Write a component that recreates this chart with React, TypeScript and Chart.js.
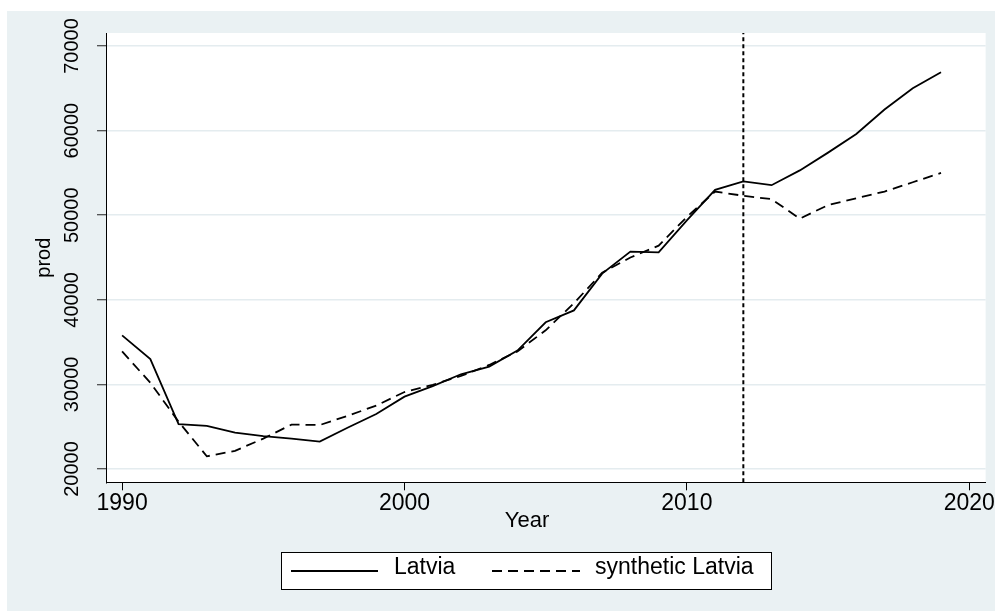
import { useEffect, useRef } from "react";
import { Chart, registerables } from "chart.js";

Chart.register(...registerables);

// Labour productivity, Latvia vs. its synthetic control
const years = [
  1990, 1991, 1992, 1993, 1994, 1995, 1996, 1997, 1998, 1999,
  2000, 2001, 2002, 2003, 2004, 2005, 2006, 2007, 2008, 2009,
  2010, 2011, 2012, 2013, 2014, 2015, 2016, 2017, 2018, 2019,
];
const latvia = [
  35800, 33000, 25300, 25100, 24300, 23900, 23600, 23250, 24900, 26500,
  28550, 29800, 31200, 32100, 34000, 37350, 38750, 43100, 45700, 45600,
  49400, 53000, 54000, 53550, 55300, 57400, 59600, 62500, 65000, 66900,
];
const syntheticLatvia = [
  33900, 30200, 25600, 21500, 22150, 23600, 25250, 25200, 26300, 27500,
  29100, 29950, 31000, 32300, 33900, 36400, 39600, 43200, 45000, 46400,
  49800, 52800, 52300, 51900, 49600, 51200, 52000, 52800, 53900, 55000,
];
const treatmentYear = 2012;

const xTicks = [1990, 2000, 2010, 2020];
const yTicks = [20000, 30000, 40000, 50000, 60000, 70000];
const seriesNames = ["Latvia", "synthetic Latvia"];
const xTitle = "Year";
const yTitle = "prod";

const X_MIN = 1989.43;
const X_MAX = 2020.58;
const Y_MIN = 18430;
const Y_MAX = 71540;

const FONT = '"Liberation Sans", Arial, Helvetica, sans-serif';
const BG = "#EAF1F3";
const GRID = "#E4ECEF";
const SOLID_W = 1.8;
const DASH = [10, 6];

const toPoints = (vals: number[]) => years.map((yr, i) => ({ x: yr, y: vals[i] }));

// Backgrounds, rotated y labels, axis titles and the boxed legend
const decorPlugin = {
  id: "stataDecor",
  beforeDraw(chart: any) {
    const { ctx, width, height, chartArea: a } = chart;
    ctx.save();
    ctx.fillStyle = BG;
    ctx.fillRect(0, 0, width, height);
    ctx.fillStyle = "#ffffff";
    ctx.fillRect(a.left, a.top, a.right - a.left, a.bottom - a.top);
    ctx.restore();
  },
  afterDraw(chart: any) {
    const { ctx, chartArea: a, scales } = chart;
    const ys = scales.y;
    ctx.save();
    ctx.fillStyle = "#000";
    ctx.textAlign = "center";
    ctx.textBaseline = "middle";

    // y tick labels, reading bottom to top
    ctx.font = `20px ${FONT}`;
    for (const t of ys.ticks) {
      const py = ys.getPixelForValue(t.value);
      ctx.save();
      ctx.translate(65, py);
      ctx.rotate(-Math.PI / 2);
      ctx.fillText(String(t.value), 0, 0);
      ctx.restore();
    }

    // y axis title
    ctx.save();
    ctx.translate(37, (a.top + a.bottom) / 2);
    ctx.rotate(-Math.PI / 2);
    ctx.font = `20px ${FONT}`;
    ctx.fillText(yTitle, 0, 0);
    ctx.restore();

    // x axis title
    ctx.font = `22px ${FONT}`;
    ctx.fillText(xTitle, 520, 510);

    // legend
    const lx = 274, ly = 541, lw = 490, lh = 37;
    ctx.fillStyle = "#ffffff";
    ctx.fillRect(lx, ly, lw, lh);
    ctx.strokeStyle = "#000";
    ctx.lineWidth = 1;
    ctx.strokeRect(lx + 0.5, ly + 0.5, lw, lh);

    const lineY = 560;
    ctx.lineWidth = SOLID_W;
    ctx.beginPath();
    ctx.moveTo(284, lineY);
    ctx.lineTo(371, lineY);
    ctx.stroke();

    ctx.setLineDash(DASH);
    ctx.beginPath();
    ctx.moveTo(485, lineY);
    ctx.lineTo(573, lineY);
    ctx.stroke();
    ctx.setLineDash([]);

    ctx.fillStyle = "#000";
    ctx.textAlign = "left";
    ctx.font = `23px ${FONT}`;
    ctx.fillText(seriesNames[0], 387, 557);
    ctx.fillText(seriesNames[1], 588, 557);
    ctx.restore();
  },
};

export default function App() {
  const canvasRef = useRef<HTMLCanvasElement>(null);

  useEffect(() => {
    const canvas = canvasRef.current;
    if (!canvas) return;
    const chart = new Chart(canvas, {
      type: "line",
      data: {
        datasets: [
          {
            label: seriesNames[0],
            data: toPoints(latvia),
            borderColor: "#000",
            borderWidth: SOLID_W,
            pointRadius: 0,
            tension: 0,
            fill: false,
          },
          {
            label: seriesNames[1],
            data: toPoints(syntheticLatvia),
            borderColor: "#000",
            borderWidth: SOLID_W,
            borderDash: DASH,
            pointRadius: 0,
            tension: 0,
            fill: false,
          },
          {
            label: "treatment",
            data: [
              { x: treatmentYear, y: Y_MIN },
              { x: treatmentYear, y: Y_MAX },
            ],
            borderColor: "#000",
            borderWidth: 2,
            borderDash: [4, 3],
            pointRadius: 0,
            fill: false,
          },
        ],
      },
      options: {
        animation: false,
        responsive: false,
        maintainAspectRatio: false,
        parsing: false as any,
        layout: { padding: { top: 22, right: 9.3, bottom: 88.7, left: 0 } },
        plugins: {
          legend: { display: false },
          tooltip: { enabled: false },
          title: { display: false },
        },
        scales: {
          x: {
            type: "linear",
            min: X_MIN,
            max: X_MAX,
            afterBuildTicks: (s: any) => {
              s.ticks = xTicks.map((v) => ({ value: v }));
            },
            afterFit: (s: any) => {
              s.height = 40;
            },
            ticks: {
              color: "#000",
              font: { family: FONT, size: 23 },
              padding: 0,
              maxRotation: 0,
              minRotation: 0,
              autoSkip: false,
              callback: (v: any) => String(v),
            },
            grid: {
              drawOnChartArea: false,
              drawTicks: true,
              tickLength: 8,
              tickColor: "#000",
              color: "#000",
            },
            border: { display: true, color: "#000", width: 1 },
          },
          y: {
            type: "linear",
            min: Y_MIN,
            max: Y_MAX,
            afterBuildTicks: (s: any) => {
              s.ticks = yTicks.map((v) => ({ value: v }));
            },
            afterFit: (s: any) => {
              s.width = 99;
            },
            ticks: { display: false },
            grid: {
              color: GRID,
              lineWidth: 1.5,
              drawTicks: true,
              tickLength: 9,
              tickColor: "#222",
              tickWidth: 1,
            },
            border: { display: true, color: "#000", width: 1 },
          },
        },
      },
      plugins: [decorPlugin],
    } as any);
    return () => chart.destroy();
  }, []);

  return (
    <div
      style={{
        position: "absolute",
        left: 0,
        top: 0,
        width: 995,
        height: 611,
        background: "#ffffff",
        overflow: "hidden",
      }}
    >
      <canvas
        ref={canvasRef}
        width={988}
        height={600}
        style={{ position: "absolute", left: 7, top: 11, width: 988, height: 600, display: "block" }}
      />
    </div>
  );
}
